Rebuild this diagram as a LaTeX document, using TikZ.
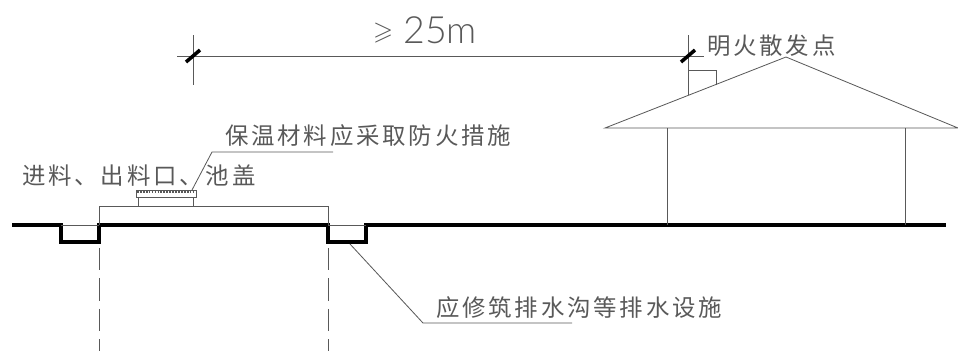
\documentclass[tikz,border=0pt]{standalone}
\usepackage{amssymb}
\usepackage{fontspec}
\newfontfamily\cjk[LetterSpace=12]{Noto Sans CJK SC}
\newfontfamily\dimfont{Lato Light}
\definecolor{inkgray}{gray}{0.35}
\tikzset{
  label/.style={inner sep=0pt,text=inkgray,font=\fontsize{20}{24}\cjk},
  thin line/.style={draw=inkgray,line width=0.7pt},
  ground/.style={draw=black,line width=3.4pt,line join=miter},
  tick/.style={draw=black,line width=3pt},
  pit/.style={draw=inkgray,line width=0.7pt,dash pattern=on 19pt off 7pt}
}
\begin{document}
\begin{tikzpicture}[x=0.03cm,y=-0.03cm]

\useasboundingbox (0,0) rectangle (958,351);

% Define dimensions
\def\gy{225}    % Ground level
\def\py{242}    % Bottom of the drains
\def\ey{128}    % Eave level

% Define coordinates used in the diagram
\coordinate (gl) at (12,\gy);
\coordinate (gr) at (946,\gy);
\coordinate (apex) at (786,57);
\coordinate (el) at (605,\ey);
\coordinate (er) at (958,\ey);
\coordinate (dl) at (177,56);
\coordinate (dr) at (704,56);
\coordinate (tl) at (193,56);
\coordinate (tr) at (688,56);

% Ground with the two drains
\draw [ground] (gl) -- (61,\gy) -- (61,\py) -- (99,\py) -- (99,\gy) -- (328,\gy)
   -- (328,\py) -- (366,\py) -- (366,\gy) -- (gr);
\draw [thin line] (61,\gy) -- (99,\gy);
\draw [thin line] (328,\gy) -- (366,\gy);

% Slab over the tank and the tank walls below ground
\draw [thin line] (99,\gy) -- (99,206) -- (328,206) -- (328,\gy);
\draw [pit] (99,248) -- (99,351);
\draw [pit] (328,248) -- (328,351);

% Cover on the slab
\draw [thin line] (138,206) -- (138,197);
\draw [thin line] (193,206) -- (193,197);
\draw [thin line] (136,190) rectangle (196,197);
\draw [line width=1.6pt,draw=inkgray,dash pattern=on 1.5pt off 1pt] (137,192) -- (195,192);

% House
\draw [thin line] (el) -- (apex) -- (er) -- cycle;
\draw [thin line] (667,\ey) -- (667,\gy);
\draw [thin line] (905,\ey) -- (905,\gy);

% Chimney
\draw [thin line] (688,70) -- (716,70) -- (716,85);

% Dimension line
\draw [thin line] (dl) -- (dr);
\draw [thin line] (193,35) -- (193,85);
\draw [thin line] (688,35) -- (688,95);
\draw [tick] (tl) ++(-7,6) -- ++(14,-12);
\draw [tick] (tr) ++(-7,6) -- ++(14,-12);

% Texts
\node [inner sep=0pt,text=inkgray,font=\fontsize{32}{36}\dimfont] (dim) at (425,30) {\raisebox{3pt}{\fontsize{22}{24}\selectfont$\geqslant$} 25m};
\node [label,anchor=west] (fire) at (707,46) {明火散发点};
\node [label,anchor=west] (ins) at (225,136) {保温材料应采取防火措施};
\node [label,anchor=west] (cover) at (22,176) {进料、出料口、池盖};
\node [label,anchor=west] (drain) at (436,308) {应修筑排水沟等排水设施};

% Leaders
\coordinate (ia) at (192,190);
\coordinate (ib) at (212,152);
\coordinate (ic) at (333,152);
\coordinate (da) at (350,244);
\coordinate (db) at (423,323);
\coordinate (dc) at (572,323);
\draw [thin line] (ia) -- (ib) -- (ic);
\draw [thin line] (da) -- (db) -- (dc);

\end{tikzpicture}
\end{document}
